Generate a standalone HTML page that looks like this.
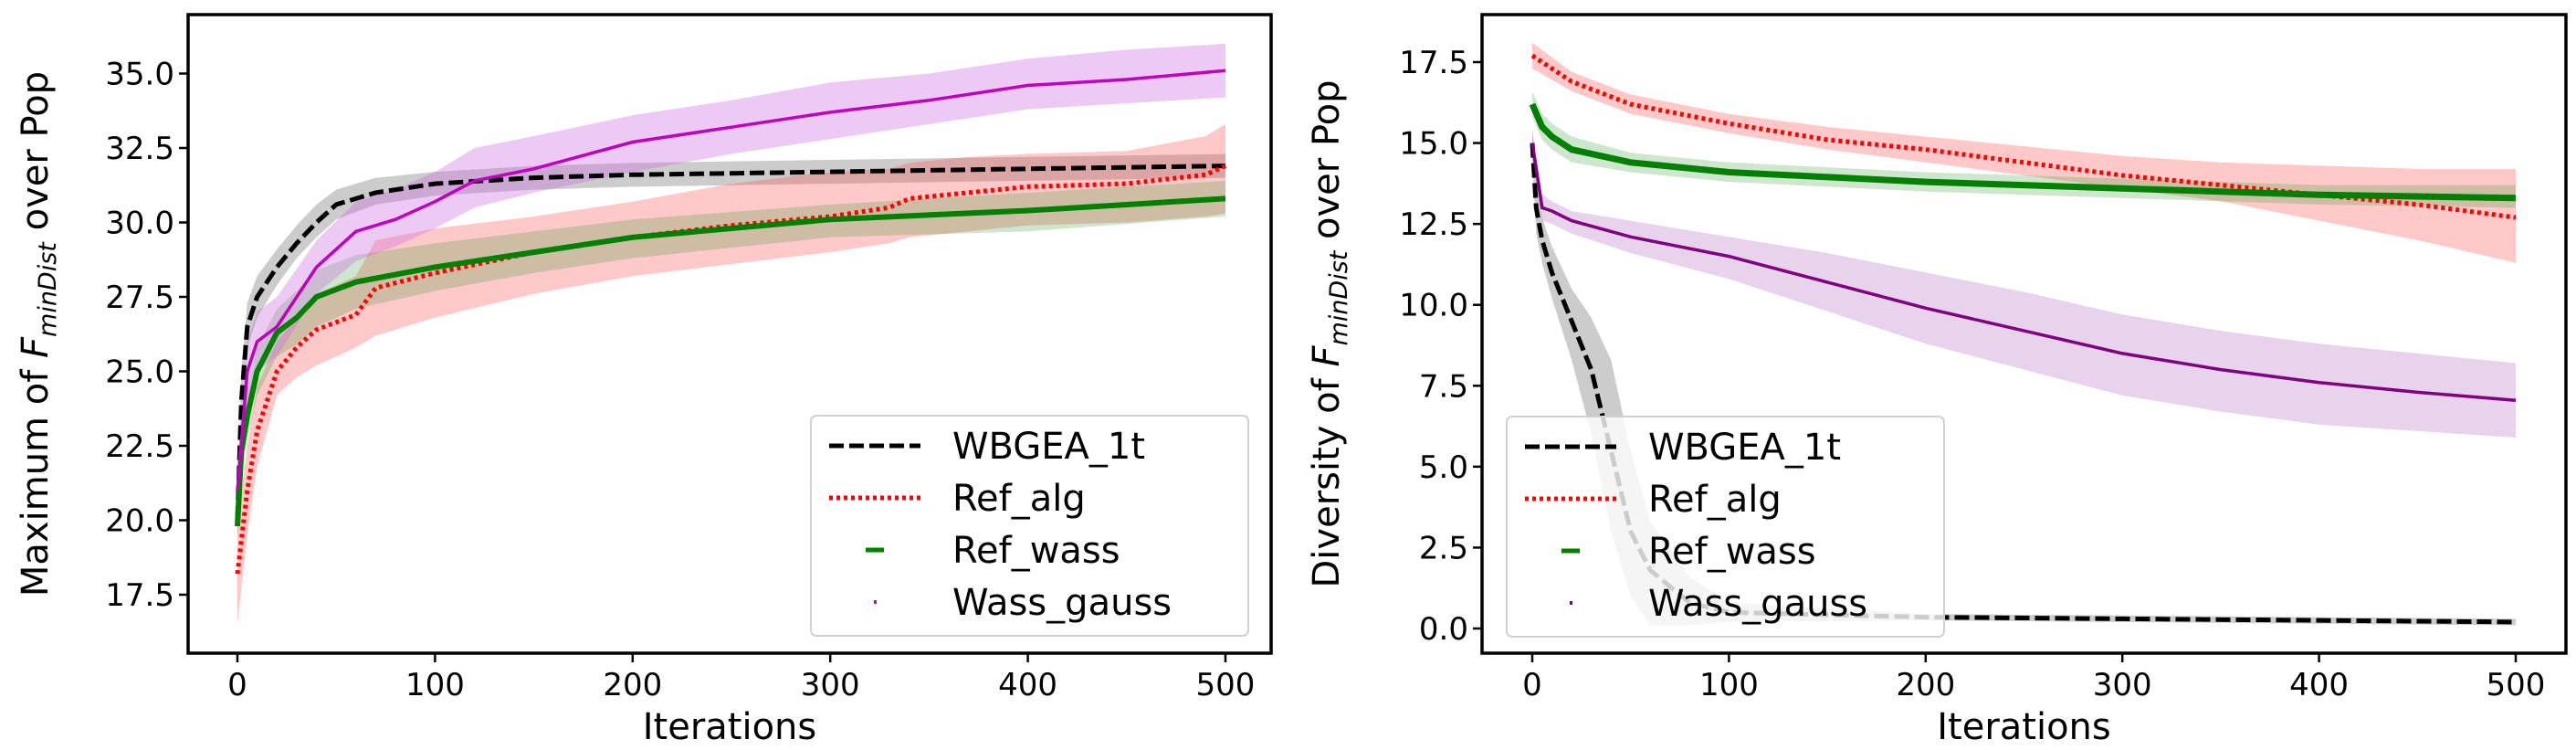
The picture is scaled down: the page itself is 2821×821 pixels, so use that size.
<!DOCTYPE html>
<html><head><meta charset="utf-8"><style>
body{margin:0;background:#fff;}
svg{display:block;font-family:"DejaVu Sans","Liberation Sans",sans-serif;}
</style></head><body>
<svg id="fig" width="2821" height="821" viewBox="0 0 2821 821" xmlns="http://www.w3.org/2000/svg">
<rect width="2821" height="821" fill="#fff"/>
<g id="left"></g>
<g id="right"></g>
</svg>
<script>
// ---- Left chart data (Maximum of F_minDist) ----
const L_wb_x=[0,2,5,10,20,30,40,50,70,100,150,200,300,400,500];
const L_wb_y=[20,24,26.5,27.5,28.5,29.3,30,30.6,31,31.3,31.5,31.6,31.7,31.8,31.9];
const L_wb_lo=[19.5,23,25.8,26.8,27.9,28.8,29.5,30.1,30.6,30.9,31.1,31.2,31.3,31.4,31.5];
const L_wb_hi=[20.5,25,27.3,28.2,29.1,29.9,30.6,31.1,31.5,31.7,31.9,32,32.1,32.2,32.3];
const L_ra_x=[0,5,10,20,30,40,60,70,100,150,200,250,300,330,340,370,400,450,490,500];
const L_ra_y=[18.2,21,23,25,25.8,26.4,26.9,27.8,28.3,29,29.5,29.9,30.2,30.5,30.8,31,31.2,31.3,31.6,31.9];
const L_ra_lo=[16.5,19.5,21.8,24.2,24.8,25.2,25.8,26.2,26.8,27.6,28.2,28.6,29,29.3,29.5,29.7,29.9,30,30.2,30.3];
const L_ra_hi=[19.8,22.5,24.5,26,26.8,27.6,28.2,29.4,29.8,30.2,30.7,31.3,31.7,31.8,32,32.2,32.3,32.4,32.9,33.3];
const L_rw_x=[0,2,5,10,20,30,40,60,100,150,200,300,400,500];
const L_rw_y=[19.8,22.3,23.5,25,26.3,26.8,27.5,28,28.5,29,29.5,30.1,30.4,30.8];
const L_rw_lo=[19.3,21.5,22.7,24.2,25.5,25.9,26.5,27.1,27.7,28.3,28.8,29.5,29.7,30.2];
const L_rw_hi=[20.3,23,24.3,25.8,27.1,27.7,28.4,28.9,29.3,29.7,30.1,30.6,31,31.4];
const L_wg_x=[0,5,10,20,40,60,80,100,120,150,200,250,300,350,400,450,500];
const L_wg_y=[21,25,26,26.5,28.5,29.7,30.1,30.7,31.4,31.8,32.7,33.2,33.7,34.1,34.6,34.8,35.1];
const L_wg_lo=[20.5,24,25,25.5,27.6,28.7,29.2,29.8,30.5,31,31.7,32.3,32.8,33.3,33.8,34,34.2];
const L_wg_hi=[21.5,26,27,27.5,29.4,30.7,31.1,31.7,32.5,32.9,33.6,34.1,34.7,35,35.5,35.8,36];
const L_yticks=[17.5,20.0,22.5,25.0,27.5,30.0,32.5,35.0];
const xticks=[0,100,200,300,400,500];
// ---- Right chart data (Diversity of F_minDist) ----
const R_wb_x=[0,2,5,10,20,30,40,50,60,80,100,200,300,400,500];
const R_wb_y=[15,13,12,11,9.5,8,5.5,3,1.8,0.8,0.5,0.35,0.3,0.25,0.2];
const R_wb_lo=[14.5,12.2,11.3,10.2,8.3,6,3,1,0.1,0.1,0.2,0.25,0.2,0.15,0.1];
const R_wb_hi=[15.5,13.8,12.7,11.8,10.5,9.6,8.3,5.5,3.3,1.6,0.8,0.45,0.4,0.35,0.3];
const R_ra_x=[0,20,50,100,150,200,250,300,350,400,450,500];
const R_ra_y=[17.7,16.9,16.2,15.6,15.1,14.8,14.4,14.0,13.7,13.4,13.1,12.7];
const R_ra_lo=[17.3,16.6,15.9,15.3,14.8,14.4,14.0,13.6,13.2,12.6,12.0,11.3];
const R_ra_hi=[18.1,17.2,16.5,15.9,15.5,15.2,14.9,14.6,14.4,14.3,14.2,14.2];
const R_rw_x=[0,5,10,20,50,100,200,300,400,500];
const R_rw_y=[16.2,15.5,15.2,14.8,14.4,14.1,13.8,13.6,13.4,13.3];
const R_rw_lo=[15.8,15.1,14.8,14.4,14.1,13.8,13.5,13.3,13.1,13.0];
const R_rw_hi=[16.6,15.9,15.6,15.2,14.7,14.4,14.1,13.9,13.7,13.7];
const R_wg_x=[0,5,10,20,50,100,150,200,250,300,350,400,450,500];
const R_wg_y=[15,13,12.9,12.6,12.1,11.5,10.7,9.9,9.2,8.5,8.0,7.6,7.3,7.05];
const R_wg_lo=[14.6,12.6,12.5,12.2,11.6,10.8,9.8,8.8,8.0,7.2,6.7,6.3,6.1,5.9];
const R_wg_hi=[15.4,13.4,13.2,12.9,12.6,12.1,11.6,11.0,10.4,9.7,9.2,8.8,8.5,8.2];
const R_yticks=[0.0,2.5,5.0,7.5,10.0,12.5,15.0,17.5];

const NS="http://www.w3.org/2000/svg";
function mk(parent,tag,attrs,name){const e=document.createElementNS(NS,tag);for(const k in attrs)e.setAttribute(k,attrs[k]);parent.appendChild(e);


return e;}

function chart(g,cfg){
  const X=v=>cfg.x0+(v-0)*(cfg.x500-cfg.x0)/500;
  const Y=v=>cfg.yA+(v-cfg.vA)*(cfg.yB-cfg.yA)/(cfg.vB-cfg.vA);
  const pts=(xs,ys)=>xs.map((x,i)=>X(x).toFixed(1)+","+Y(ys[i]).toFixed(1)).join(" ");
  const band=(xs,lo,hi)=>pts(xs,lo)+" "+pts(xs.slice().reverse(),hi.slice().reverse());
  cfg.series.forEach(s=>{
    mk(g,'polygon',{points:band(s.x,s.lo,s.hi),fill:s.fill,'fill-opacity':s.op,stroke:'none'},s.name+'-band');
  });
  cfg.series.forEach(s=>{
    mk(g,'polyline',{points:pts(s.x,s.y),fill:'none',stroke:s.color,'stroke-width':s.w,'stroke-dasharray':s.dash||'none'},s.name+'-line');
  });
  mk(g,'rect',{x:cfg.L,y:cfg.T,width:cfg.R-cfg.L,height:cfg.B-cfg.T,fill:'none',stroke:'#000','stroke-width':3.5},'axes-frame');
  xticks.forEach(t=>{
    mk(g,'line',{x1:X(t),x2:X(t),y1:cfg.B,y2:cfg.B+10,stroke:'#000','stroke-width':2.5},'x-tick');
    const tx=mk(g,'text',{x:X(t),y:cfg.B+46,'font-size':34,'text-anchor':'middle'},'x-tick-label');tx.textContent=t;
  });
  cfg.yticks.forEach(t=>{
    mk(g,'line',{x1:cfg.L-10,x2:cfg.L,y1:Y(t),y2:Y(t),stroke:'#000','stroke-width':2.5},'y-tick');
    const tx=mk(g,'text',{x:cfg.L-15,y:Y(t)+12,'font-size':34,'text-anchor':'end'},'y-tick-label');tx.textContent=t.toFixed(1);
  });
  const xl=mk(g,'text',{x:(cfg.L+cfg.R)/2,y:cfg.B+94,'font-size':40,'text-anchor':'middle'},'x-axis-title');xl.textContent='Iterations';
  const yl=mk(g,'text',{transform:`translate(${cfg.ylx},${(cfg.T+cfg.B)/2}) rotate(-90)`,'font-size':40,'text-anchor':'middle'},'y-axis-title');
  yl.innerHTML=cfg.ytitle+' of <tspan font-style="italic">F</tspan><tspan font-style="italic" font-size="27" dy="9">minDist</tspan><tspan dy="-9"> over Pop</tspan>';
  const lg=mk(g,'g',{},'legend');
  mk(lg,'rect',{x:cfg.lx,y:cfg.ly,width:479,height:241,rx:6,fill:'#fff','fill-opacity':0.8,stroke:'#d0d0d0','stroke-width':2},'legend-box');
  const names=['WBGEA_1t','Ref_alg','Ref_wass','Wass_gauss'];
  names.forEach((n,i)=>{
    const yy=cfg.ly+33+i*57;const s=cfg.series[i];
    if(i===0) mk(lg,'line',{x1:cfg.lx+20,x2:cfg.lx+120,y1:yy,y2:yy,stroke:'#000','stroke-width':5,'stroke-dasharray':'16,6'},'legend-swatch-wbgea');
    if(i===1) mk(lg,'line',{x1:cfg.lx+20,x2:cfg.lx+120,y1:yy,y2:yy,stroke:'red','stroke-width':5,'stroke-dasharray':'4,4'},'legend-swatch-refalg');
    if(i===2) mk(lg,'line',{x1:cfg.lx+60,x2:cfg.lx+80,y1:yy,y2:yy,stroke:'green','stroke-width':5},'legend-swatch-refwass');
    if(i===3) mk(lg,'rect',{x:cfg.lx+69,y:yy-2,width:3,height:4,fill:s.color},'legend-swatch-wassgauss');
    const t=mk(lg,'text',{x:cfg.lx+155,y:yy+14,'font-size':40},'legend-label');t.textContent=n;
  });
}
chart(document.getElementById('left'),{L:206,R:1392,T:16,B:715,x0:260,x500:1342,yA:80.5,vA:35,yB:651,vB:17.5,
  yticks:L_yticks,ylx:52,ytitle:'Maximum',lx:888,ly:455,
  series:[
   {name:'wbgea',x:L_wb_x,y:L_wb_y,lo:L_wb_lo,hi:L_wb_hi,color:'#000',w:5,dash:'16,6',fill:'#808080',op:0.4},
   {name:'ref-alg',x:L_ra_x,y:L_ra_y,lo:L_ra_lo,hi:L_ra_hi,color:'red',w:5,dash:'4,4',fill:'#ff4d4d',op:0.3},
   {name:'ref-wass',x:L_rw_x,y:L_rw_y,lo:L_rw_lo,hi:L_rw_hi,color:'green',w:6,fill:'#3a9a3a',op:0.25},
   {name:'wass-gauss',x:L_wg_x,y:L_wg_y,lo:L_wg_lo,hi:L_wg_hi,color:'#bf00bf',w:3.5,fill:'#cc66dd',op:0.35}]});
chart(document.getElementById('right'),{L:1623,R:2810,T:16,B:715,x0:1678,x500:2755,yA:68,vA:17.5,yB:688,vB:0,
  yticks:R_yticks,ylx:1466,ytitle:'Diversity',lx:1650,ly:456,
  series:[
   {name:'wbgea',x:R_wb_x,y:R_wb_y,lo:R_wb_lo,hi:R_wb_hi,color:'#000',w:5,dash:'16,6',fill:'#808080',op:0.4},
   {name:'ref-alg',x:R_ra_x,y:R_ra_y,lo:R_ra_lo,hi:R_ra_hi,color:'red',w:5,dash:'4,4',fill:'#ff4d4d',op:0.3},
   {name:'ref-wass',x:R_rw_x,y:R_rw_y,lo:R_rw_lo,hi:R_rw_hi,color:'green',w:7,fill:'#3a9a3a',op:0.25},
   {name:'wass-gauss',x:R_wg_x,y:R_wg_y,lo:R_wg_lo,hi:R_wg_hi,color:'#800080',w:3.5,fill:'#b070c0',op:0.3}]});
</script>
</body></html>
